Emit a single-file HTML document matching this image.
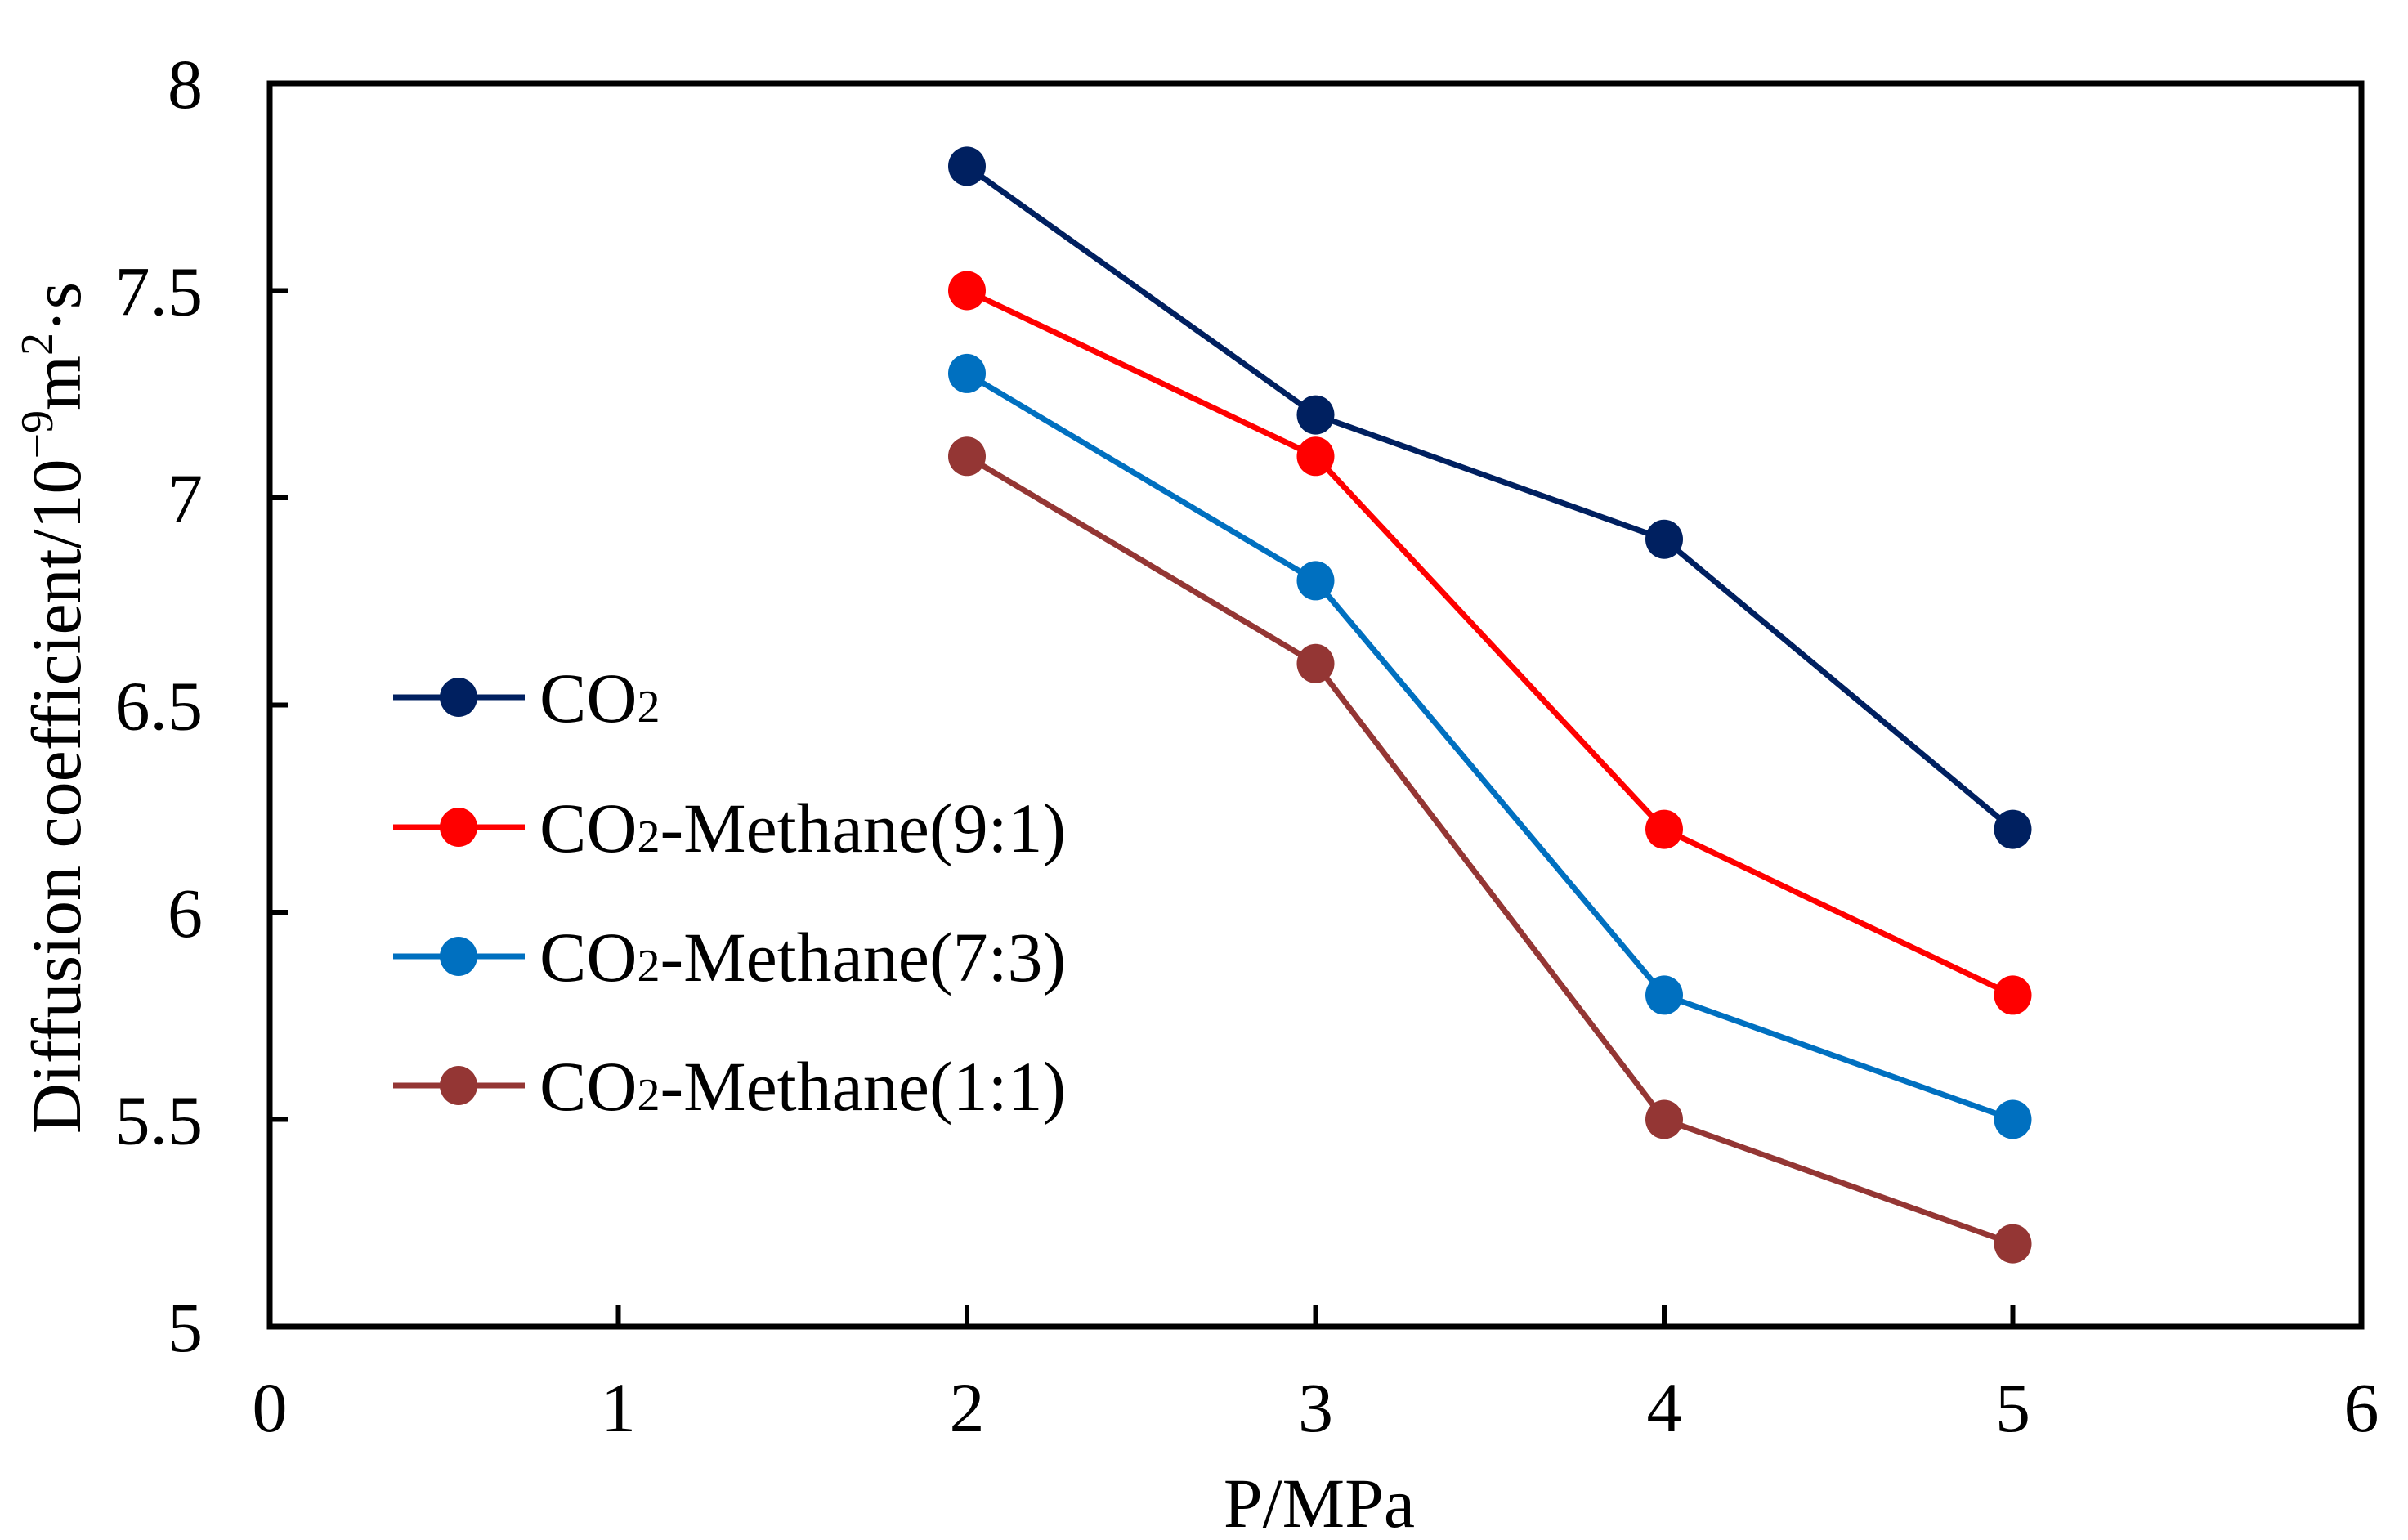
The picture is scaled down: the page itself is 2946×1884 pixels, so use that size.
<!DOCTYPE html>
<html><head><meta charset="utf-8"><style>html,body{margin:0;padding:0;background:#fff}svg{display:block}text{font-family:"Liberation Serif",serif;fill:#000}</style></head>
<body>
<svg id="chart" width="2946" height="1884" viewBox="0 0 2946 1884" xmlns="http://www.w3.org/2000/svg"></svg>
<script>
const xCats = [2, 3, 4, 5];
const co2 = [7.8, 7.2, 6.9, 6.2];
const m91 = [7.5, 7.1, 6.2, 5.8];
const m73 = [7.3, 6.8, 5.8, 5.5];
const m11 = [7.1, 6.6, 5.5, 5.2];
const xTicks = [0, 1, 2, 3, 4, 5, 6];
const yTicks = [5, 5.5, 6, 6.5, 7, 7.5, 8];
const yTickLabels = ["5", "5.5", "6", "6.5", "7", "7.5", "8"];
const seriesNames = ["CO2", "CO2-Methane(9:1)", "CO2-Methane(7:3)", "CO2-Methane(1:1)"];

const X0 = 330, X1 = 2889, Y0 = 1623, Y1 = 102;
const sx = v => X0 + (v - 0) / 6 * (X1 - X0);
const sy = v => Y0 - (v - 5) / 3 * (Y0 - Y1);
const svg = document.getElementById('chart');
const NS = 'http://www.w3.org/2000/svg';
function mk(tag, attrs, parent) {
  const e = document.createElementNS(NS, tag);
  for (const k in attrs) e.setAttribute(k, attrs[k]);
  (parent || svg).appendChild(e);
  return e;
}
const frame = mk('rect', {x: X0, y: Y1, width: X1 - X0, height: Y0 - Y1, fill: 'none', stroke: '#000', 'stroke-width': 7});


xTicks.forEach(t => {
  if (t > 0 && t < 6) {
    const tk = mk('line', {x1: sx(t), x2: sx(t), y1: Y0, y2: Y0 - 27, stroke: '#000', 'stroke-width': 6});
    
    
  }
  const lb = mk('text', {x: sx(t), y: Y0 + 128, 'font-size': 86, 'text-anchor': 'middle'});
  lb.textContent = String(t);
  
  
});
yTicks.forEach((t, i) => {
  if (t > 5 && t < 8) {
    const tk = mk('line', {x1: X0, x2: X0 + 22, y1: sy(t), y2: sy(t), stroke: '#000', 'stroke-width': 6});
    
    
  }
  const lb = mk('text', {x: 248, y: sy(t) + 30, 'font-size': 86, 'text-anchor': 'end'});
  lb.textContent = yTickLabels[i];
  
  
});
const xt = mk('text', {x: 1614, y: 1868, 'font-size': 86, 'text-anchor': 'middle'});
xt.textContent = 'P/MPa';


const yt = mk('text', {x: 0, y: 0, 'font-size': 86, 'text-anchor': 'middle', transform: 'translate(98,866) rotate(-90)'});
yt.innerHTML = 'Diffusion coefficient/10<tspan dy="-34" font-size="56">−9</tspan><tspan dy="34">m</tspan><tspan dy="-34" font-size="56">2</tspan><tspan dy="34">·s</tspan>';


const allSeries = [co2, m91, m73, m11];
const colors = ['#002060', '#FF0000', '#0070C0', '#943634'];
const keys = ['co2', 'methane-9-1', 'methane-7-3', 'methane-1-1'];
allSeries.forEach((vals, s) => {
  const g = mk('g', {});
  
  
  const pts = vals.map((v, i) => sx(xCats[i]) + ',' + sy(v)).join(' ');
  const pl = mk('polyline', {points: pts, fill: 'none', stroke: colors[s], 'stroke-width': 7}, g);
  
  
  vals.forEach((v, i) => {
    const c = mk('ellipse', {cx: sx(xCats[i]), cy: sy(v), rx: 23, ry: 24, fill: colors[s]}, g);
    
    
  });
});
const legendY = [853, 1012, 1170, 1328];
const lg = mk('g', {});


seriesNames.forEach((n, s) => {
  const g = mk('g', {}, lg);
  
  
  mk('line', {x1: 481, x2: 642, y1: legendY[s], y2: legendY[s], stroke: colors[s], 'stroke-width': 7}, g);
  mk('ellipse', {cx: 561, cy: legendY[s], rx: 23, ry: 24, fill: colors[s]}, g);
  const t = mk('text', {x: 660, y: legendY[s] + 30, 'font-size': 86}, g);
  t.innerHTML = 'CO<tspan font-size="56">2</tspan>' + n.slice(3);
});
</script>
</body></html>
